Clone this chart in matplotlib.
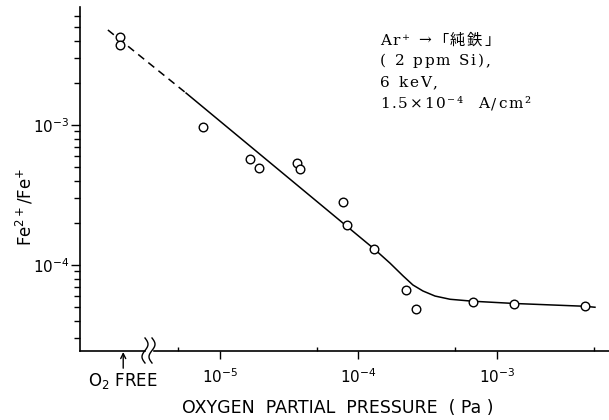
import matplotlib
matplotlib.use("Agg")
import numpy as np
import matplotlib.pyplot as plt
from matplotlib.lines import Line2D
from matplotlib.patches import Rectangle
from matplotlib.font_manager import FontProperties
from matplotlib.ticker import FixedLocator, LogLocator, NullFormatter

FIG_W, FIG_H = 609, 420

# oxygen-free runs (no partial pressure, drawn at a nominal position left of the break)
o2_free_pos = 2.0e-6
o2_free_ratio = [4.22e-3, 3.73e-3]

# measured Fe2+/Fe+ against O2 partial pressure (Pa)
pressure = [7.57e-6, 1.65e-5, 1.90e-5, 3.58e-5, 3.76e-5, 7.69e-5, 8.22e-5,
            1.30e-4, 2.20e-4, 2.60e-4, 6.68e-4, 1.33e-3, 4.32e-3]
ratio = [9.72e-4, 5.69e-4, 4.93e-4, 5.38e-4, 4.87e-4, 2.83e-4, 1.93e-4,
         1.30e-4, 6.59e-5, 4.83e-5, 5.45e-5, 5.30e-5, 5.07e-5]

# guide line: extrapolated part (dashed) and measured range (solid)
trend_dash_p = [1.55e-6, 5.69e-6]
trend_dash_r = [4.77e-3, 1.69e-3]
trend_p = [5.69e-6, 1.30e-4, 1.69e-4, 2.10e-4, 2.47e-4, 2.92e-4, 3.57e-4,
           4.58e-4, 6.68e-4, 1.33e-3, 4.32e-3, 5.10e-3]
trend_r = [1.69e-3, 1.30e-4, 1.03e-4, 8.35e-5, 7.20e-5, 6.52e-5, 6.00e-5,
           5.69e-5, 5.51e-5, 5.31e-5, 5.07e-5, 4.99e-5]

x_ticks = [1e-5, 1e-4, 1e-3]
x_tick_labels = ["10$^{-5}$", "10$^{-4}$", "10$^{-3}$"]
x_minor_ticks = [5e-6, 5e-5, 5e-4, 5e-3]
y_ticks = [1e-4, 1e-3]
y_tick_labels = ["10$^{-4}$", "10$^{-3}$"]

note_lines = ["Ar⁺ →「純鉄」", "( 2 ppm Si),", "6 keV,", "1.5×10⁻⁴  A/cm²"]

fig = plt.figure(figsize=(FIG_W / 100, FIG_H / 100), dpi=100)
ax = fig.add_axes([80 / FIG_W, 69 / FIG_H, 529 / FIG_W, 344 / FIG_H])
ax.set_xscale("log")
ax.set_yscale("log")
ax.set_xlim(9.75e-7, 6.44e-3)
ax.set_ylim(2.43e-5, 6.96e-3)

ax.plot(trend_dash_p, trend_dash_r, color="black", lw=1.1, dashes=(5, 3.5), zorder=2)
ax.plot(trend_p, trend_r, color="black", lw=1.1, zorder=2)

marker_kw = dict(ls="none", marker="o", ms=6.2, mfc="white", mec="black", mew=1.0, zorder=3)
ax.plot([o2_free_pos * 0.95] * len(o2_free_ratio), o2_free_ratio, **marker_kw)
ax.plot(pressure, ratio, **marker_kw)

for side in ["top", "right"]:
    ax.spines[side].set_visible(False)
for side in ["left", "bottom"]:
    ax.spines[side].set_linewidth(1.2)

ax.xaxis.set_major_locator(FixedLocator(x_ticks))
ax.set_xticklabels(x_tick_labels)
ax.xaxis.set_minor_locator(FixedLocator(x_minor_ticks))
ax.xaxis.set_minor_formatter(NullFormatter())
ax.tick_params(axis="x", which="major", direction="out", length=6, width=1.0,
               labelsize=11, pad=6)
ax.tick_params(axis="x", which="minor", direction="in", length=3, width=1.0)

ax.yaxis.set_major_locator(FixedLocator(y_ticks))
ax.set_yticklabels(y_tick_labels)
ax.yaxis.set_minor_locator(LogLocator(base=10, subs=np.arange(2, 10)))
ax.yaxis.set_minor_formatter(NullFormatter())
ax.tick_params(axis="y", which="major", direction="out", length=6.5, width=1.0,
               labelsize=11, pad=1)
ax.tick_params(axis="y", which="minor", direction="out", length=4, width=1.0)

ax.set_xlabel("OXYGEN  PARTIAL  PRESSURE  ( Pa )", fontsize=12.5)
ax.xaxis.set_label_coords((338 - 80) / 529, (351 - 399) / 344)
ax.set_ylabel("Fe$^{2+}$/Fe$^{+}$", fontsize=12)
ax.yaxis.set_label_coords(-0.084, (351 - 207) / 344)

# O2-free marker under the axis
ax.annotate("", xy=(o2_free_pos, -0.003), xytext=(o2_free_pos, -0.05),
            xycoords=ax.get_xaxis_transform(), textcoords=ax.get_xaxis_transform(),
            arrowprops=dict(arrowstyle="->", lw=1.0, color="black",
                            shrinkA=0, shrinkB=0, mutation_scale=9))
ax.text(o2_free_pos, -0.087, "O$_2$ FREE", transform=ax.get_xaxis_transform(),
        ha="center", va="center", fontsize=12)

# axis break symbol
t = np.linspace(-1, 1, 40)
wave_y = 350.5 - 12.5 * t
fig.add_artist(Rectangle((145.5 / FIG_W, 1 - 356 / FIG_H), 6.5 / FIG_W, 12 / FIG_H,
                         transform=fig.transFigure, color="white", zorder=5))
for x0 in [145.0, 152.0]:
    wave_x = x0 + 3.0 * np.sin(np.pi * t)
    fig.add_artist(Line2D(wave_x / FIG_W, 1 - wave_y / FIG_H, transform=fig.transFigure,
                          color="black", lw=1.0, zorder=6))


def tracked_text(x, y, s, track, size):
    # one glyph at a time so the letter spacing can be widened
    renderer = fig.canvas.get_renderer()
    prop = FontProperties(family=["DejaVu Serif", "Noto Sans CJK JP"], size=size)

    def width(text):
        return renderer.get_text_width_height_descent(text, prop, ismath=False)[0]

    bars = width("||")
    for ch in s:
        if ch != " ":
            fig.text(x / FIG_W, 1 - y / FIG_H, ch, ha="left", va="baseline",
                     fontproperties=prop)
        x += width("|" + ch + "|") - bars + track


for line, base_y in zip(note_lines, [45, 65, 87, 108]):
    tracked_text(380, base_y, line, 1.8, 11)

fig.savefig("out.png", dpi=100)
